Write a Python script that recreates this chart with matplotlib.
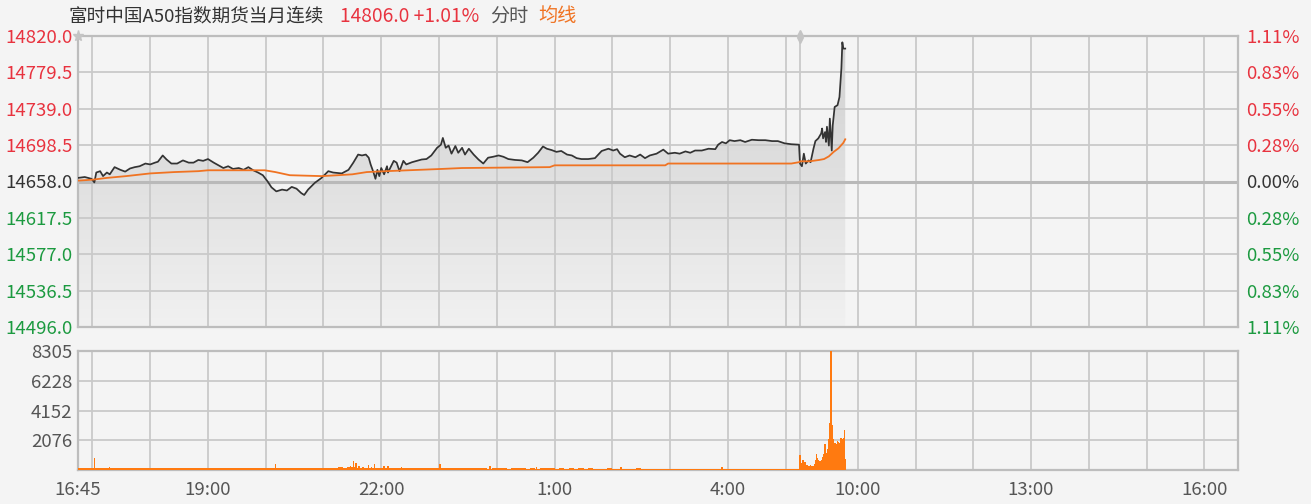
import matplotlib
matplotlib.use("Agg")
import matplotlib.pyplot as plt
import numpy as np
from matplotlib.patches import Polygon
from matplotlib.colors import LinearSegmentedColormap

plt.rcParams['font.family'] = ['Noto Sans CJK SC', 'DejaVu Sans']

# ---- данные ----
TITLE = "富时中国A50指数期货当月连续"
LAST_PRICE = 14806.0
PREV_CLOSE = 14658.0
PRICE_STEP = 40.5
VOL_MAX = 8305
VOL_TICKS = [2076, 4152, 6228, 8305]

# ночная сессия 16:45-05:15, дневная 09:00-16:35 (минуты подряд)
NIGHT_LEN = 750
TOTAL_LEN = 1205

time_labels = ["16:45", "19:00", "22:00", "1:00", "4:00", "10:00", "13:00", "16:00"]
grid_times = ["17:00", "18:00", "19:00", "20:00", "21:00", "22:00", "23:00", "0:00",
              "1:00", "2:00", "3:00", "4:00", "5:00", "5:15", "10:00", "11:00",
              "12:00", "13:00", "14:00", "15:00", "16:00"]

# цена, ночь: минуты от 16:45
night_min = [0, 7, 14, 17, 19, 23, 26, 30, 33, 38, 44, 49, 54, 59, 64, 70, 75, 80, 83, 88,
             92, 97, 103, 109, 115, 120, 125, 130, 135, 141, 146, 151, 156, 161, 167, 172,
             177, 182, 187, 192, 197, 201, 206, 212, 217, 222, 227, 232, 235, 239, 246, 253,
             260, 265, 274, 281, 286, 291, 295, 299, 302, 304, 307, 309, 311, 313, 315, 318,
             321, 322, 328, 331, 334, 338, 341, 347, 352, 357, 362, 367, 373, 377, 379, 382,
             385, 388, 392, 395, 399, 402, 406, 411, 416, 421, 426, 431, 437, 442, 447, 454,
             461, 467, 473, 478, 483, 487, 492, 497, 502, 508, 513, 518, 523, 530, 537, 544,
             551, 556, 560, 563, 568, 573, 579, 584, 589, 594, 601, 608, 613, 620, 625, 631,
             636, 641, 648, 655, 662, 665, 669, 673, 677, 682, 688, 693, 700, 707, 714, 721,
             727, 734, 741, 749]
night_price = [14662, 14663, 14661, 14657, 14668, 14669.5, 14664, 14668, 14666, 14674, 14671,
               14669, 14672.5, 14674, 14675, 14678, 14677, 14679, 14680, 14687, 14682.5, 14678,
               14678, 14681.5, 14679, 14679, 14682, 14681, 14683, 14679, 14676, 14673, 14675,
               14672, 14673, 14671, 14674, 14670.5, 14668, 14665, 14658, 14651.5, 14647, 14649,
               14648, 14652, 14650, 14645, 14643, 14649, 14656.5, 14662, 14669.5, 14668, 14667,
               14671, 14679, 14688, 14687, 14688, 14684.5, 14677, 14668, 14661, 14671, 14664,
               14673, 14666, 14675, 14668, 14681, 14679, 14669.5, 14681, 14677, 14679.5, 14681,
               14682.5, 14683, 14687, 14695.5, 14699, 14706.5, 14695.5, 14698, 14689, 14697.5,
               14690, 14695.5, 14688, 14694.5, 14688, 14682.5, 14678, 14684.5, 14685.5, 14687,
               14685.5, 14683, 14682, 14681.5, 14679.5, 14684.5, 14690, 14697, 14694.5, 14693,
               14691, 14692, 14688, 14687, 14684, 14683, 14683, 14684, 14692, 14694.5, 14692.5,
               14694, 14689, 14685, 14687, 14685, 14688, 14684, 14687, 14689, 14693.5, 14689,
               14690, 14689, 14691.5, 14690, 14692.5, 14692.5, 14694.5, 14694, 14699, 14702,
               14700.5, 14704, 14703, 14704, 14702, 14704.5, 14704, 14704, 14703, 14703,
               14700.5, 14699.5, 14699]

# цена, день: минуты от 09:00
day_min = [0, 2, 4, 6, 9, 11, 14, 16, 19, 22, 23, 24, 26, 27, 28, 30, 31, 33, 34, 36, 39,
           41, 43, 44, 45, 47]
day_price = [14678, 14675, 14689, 14678, 14681.5, 14679.5, 14694.5, 14703, 14706, 14711.5,
             14717, 14706, 14713, 14702, 14719, 14698, 14728, 14692.5, 14720.5, 14741, 14743,
             14752, 14784, 14813, 14806, 14806]

# средняя цена
avg_night_min = [0, 15, 30, 50, 75, 100, 125, 135, 194, 205, 220, 253, 270, 285, 300, 320,
                 343, 378, 399, 490, 495, 610, 613, 741, 749]
avg_night_val = [14659, 14660, 14662, 14664, 14667, 14668.5, 14669.5, 14670.5, 14670.5,
                 14668.5, 14665, 14664, 14665, 14666, 14668.5, 14669.5, 14670.5, 14672,
                 14673, 14674, 14676, 14676, 14678, 14678, 14679.5]
avg_day_min = [0, 10, 20, 25, 30, 35, 40, 45, 47]
avg_day_val = [14680.5, 14680.5, 14682, 14683, 14686, 14691, 14695, 14701, 14705]

# объём ночью по 5-минутным блокам
night_vol_5m = [150, 140, 160, 150, 140, 150, 130, 140, 150, 130, 140, 130, 120, 130, 140,
                130, 120, 130, 120, 130, 120, 130, 120, 110, 120, 130, 120, 120, 110, 120,
                130, 120, 130, 120, 140, 130, 120, 130, 120, 130, 140, 130, 140, 130, 120,
                130, 140, 150, 140, 130, 140, 150, 160, 170, 180, 170, 180, 190, 170, 160,
                150, 160, 150, 140, 150, 140, 130, 140, 130, 120, 130, 120, 130, 120, 110,
                120, 130, 120, 110, 120, 110, 120, 110, 120, 110, 100, 110, 120, 110, 100,
                110, 120, 110, 100, 110, 100, 110, 120, 110, 100, 110, 100, 110, 100, 110,
                100, 110, 100, 90, 100, 110, 100, 90, 100, 90, 100, 110, 100, 90, 100,
                90, 100, 90, 100, 90, 80, 90, 100, 90, 80, 90, 80, 90, 100, 90, 80,
                70, 80, 90, 70, 60, 70, 60, 70, 60, 70, 60, 70, 60, 70]
# заметные всплески объёма ночью (минута от 16:45, объём)
spike_min = [17, 33, 49, 66, 129, 205, 280, 283, 286, 289, 292, 296, 302, 305, 308, 318,
             322, 336, 376, 428, 476, 564, 669]
spike_vol = [850, 190, 130, 150, 130, 420, 200, 300, 630, 510, 280, 220, 350, 200, 400, 280,
             250, 190, 400, 300, 180, 200, 200]
# объём днём по минутам от 09:00
day_vol = [1080, 300, 500, 685, 400, 545, 300, 315, 250, 265, 300, 360, 250, 265, 300, 400,
           700, 1150, 850, 700, 615, 500, 600, 730, 900, 1130, 1780, 965, 1200, 1500, 2130,
           3290, 8300, 3175, 1660, 2130, 1900, 1900, 1780, 2010, 1950, 1900, 2245, 2200, 2180,
           2245, 2825, 780]

# ---- оформление ----
BG = "#f4f4f4"
GRID = "#c9c9c9"
RED = "#e8333f"
GREEN = "#1c9a40"
DARK = "#333333"
ORANGE = "#f07322"
VOL_COLOR = "#ff7a10"
FS = 13.4


def to_idx(hhmm):
    h, m = map(int, hhmm.split(":"))
    t = h * 60 + m
    if t >= 16 * 60 + 45:
        return t - (16 * 60 + 45)
    if t <= 5 * 60 + 15:
        return t + 24 * 60 - (16 * 60 + 45)
    return NIGHT_LEN + t - 9 * 60


x_price = np.array(night_min + [NIGHT_LEN + d for d in day_min], dtype=float)
y_price = np.array(night_price + day_price)
x_avg = np.array(avg_night_min + [NIGHT_LEN + d for d in avg_day_min], dtype=float)
y_avg = np.array(avg_night_val + avg_day_val)

y_lo = PREV_CLOSE - 4 * PRICE_STEP
y_hi = PREV_CLOSE + 4 * PRICE_STEP
price_ticks = [PREV_CLOSE + k * PRICE_STEP for k in range(-4, 5)]

fig = plt.figure(figsize=(13.11, 5.04), dpi=100, facecolor=BG)
ax = fig.add_axes([78 / 1311, 1 - 327 / 504, 1160 / 1311, 291 / 504])
axv = fig.add_axes([78 / 1311, 1 - 470 / 504, 1160 / 1311, 119 / 504])

for a in (ax, axv):
    a.set_facecolor(BG)
    for s in a.spines.values():
        s.set_color("#bdbdbd")
        s.set_linewidth(1.6)
    for t in grid_times:
        a.axvline(to_idx(t), color=GRID, lw=1.3, zorder=2)
    a.tick_params(length=0)

# градиентная заливка под ценой
verts = [(x_price[0], y_lo)] + list(zip(x_price, y_price)) + [(x_price[-1], y_lo)]
poly = Polygon(verts, closed=True, facecolor="none", edgecolor="none")
ax.add_patch(poly)
cmap = LinearSegmentedColormap.from_list("fill", ["#d0d0d0", "#f1f1f1"])
grad = np.linspace(0, 1, 256).reshape(-1, 1)
im = ax.imshow(grad, extent=[0, TOTAL_LEN, y_lo, y_hi], aspect="auto", cmap=cmap,
               origin="upper", zorder=1)
im.set_clip_path(poly)

for p in price_ticks[1:-1]:
    if p == PREV_CLOSE:
        ax.axhline(p, color="#b9b9b9", lw=2.2, zorder=2)
    else:
        ax.axhline(p, color=GRID, lw=1.3, zorder=2)

ax.plot(x_price, y_price, color="#333333", lw=1.25, zorder=4)
ax.plot(x_avg, y_avg, color=ORANGE, lw=1.3, zorder=4)

ax.set_xlim(0, TOTAL_LEN)
ax.set_ylim(y_lo, y_hi)
ax.set_xticks([])
ax.set_yticks(price_ticks)
ax.set_yticklabels([f"{p:.1f}" for p in price_ticks], fontsize=FS)
colors = [GREEN if p < PREV_CLOSE else (DARK if p == PREV_CLOSE else RED) for p in price_ticks]
for lab, c in zip(ax.get_yticklabels(), colors):
    lab.set_color(c)
ax.tick_params(axis="y", pad=4)

axr = ax.twinx()
axr.set_ylim(y_lo, y_hi)
axr.set_yticks(price_ticks)
axr.set_yticklabels([f"{abs(p - PREV_CLOSE) / PREV_CLOSE * 100:.2f}%" for p in price_ticks],
                    fontsize=FS)
for lab, c in zip(axr.get_yticklabels(), colors):
    lab.set_color(c)
axr.tick_params(length=0, pad=6)
for s in axr.spines.values():
    s.set_visible(False)

# значки
ax.plot(0, y_hi, marker="*", ms=8, color="#c4c4c4", clip_on=False, zorder=5)
ax.plot(NIGHT_LEN, y_hi + 3, marker="^", ms=5, color="#c4c4c4", clip_on=False, zorder=5)
ax.plot(NIGHT_LEN, y_hi - 4, marker="v", ms=5, color="#c4c4c4", clip_on=False, zorder=5)

# объём
axv.bar(np.arange(0, NIGHT_LEN, 5) + 2.5, night_vol_5m, width=5.4, color=VOL_COLOR,
        lw=0, zorder=3)
axv.bar(spike_min, spike_vol, width=1.5, color=VOL_COLOR, lw=0, zorder=3)
axv.bar([NIGHT_LEN + d for d in range(len(day_vol))], day_vol, width=1.6, color=VOL_COLOR,
        lw=0, zorder=3)
for v in VOL_TICKS[:-1]:
    axv.axhline(v, color=GRID, lw=1.3, zorder=2)
axv.set_xlim(0, TOTAL_LEN)
axv.set_ylim(0, VOL_MAX)
axv.set_yticks(VOL_TICKS)
axv.set_yticklabels([str(v) for v in VOL_TICKS], fontsize=FS, color="#555555")
axv.set_xticks([to_idx(t) for t in time_labels])
axv.set_xticklabels(time_labels, fontsize=FS, color="#555555")
axv.tick_params(axis="x", pad=8)
axv.tick_params(axis="y", pad=4)

# заголовок
fig.text(68 / 1311, 1 - 16 / 504, TITLE, fontsize=13.4, color=DARK, va="center")
fig.text(340 / 1311, 1 - 16 / 504,
         f"{LAST_PRICE:.1f} +{(LAST_PRICE - PREV_CLOSE) / PREV_CLOSE * 100:.2f}%",
         fontsize=13.8, color=RED, va="center")
fig.text(490 / 1311, 1 - 16 / 504, "分时", fontsize=13.8, color="#555555", va="center")
fig.text(538 / 1311, 1 - 16 / 504, "均线", fontsize=13.8, color=ORANGE, va="center")

fig.savefig("out.png", dpi=100, facecolor=BG)
